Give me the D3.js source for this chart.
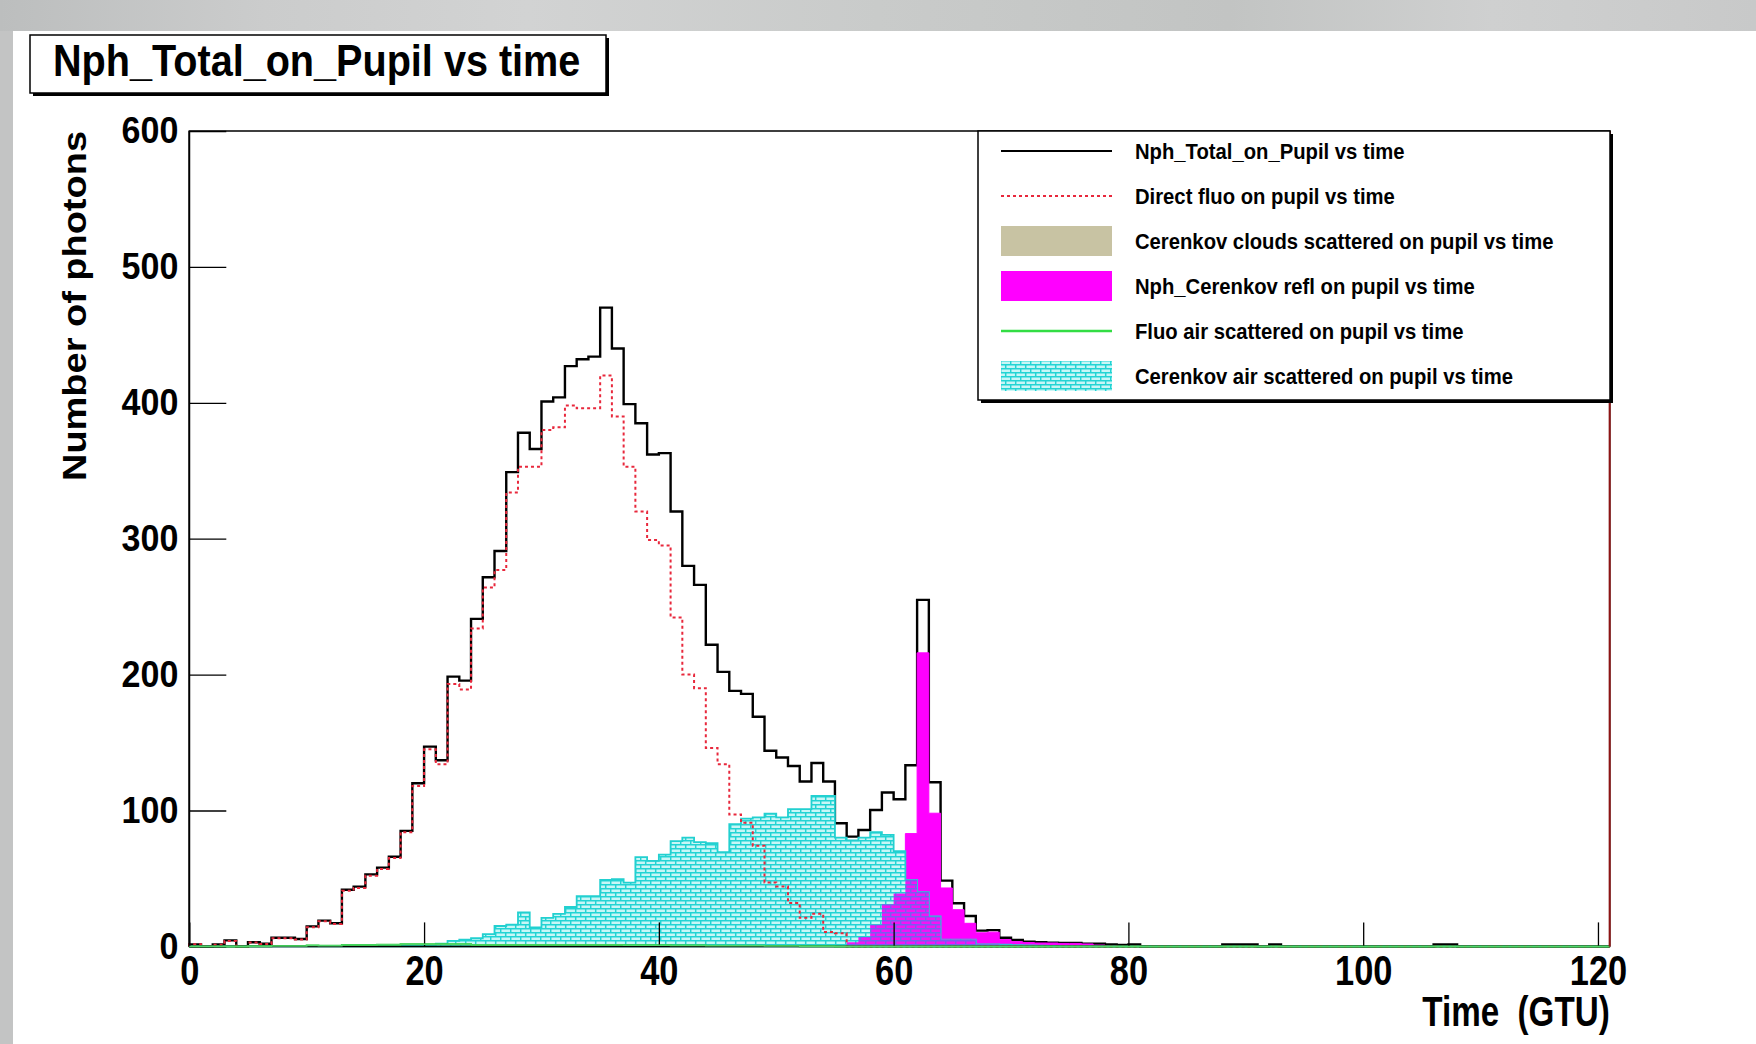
<!DOCTYPE html>
<html>
<head>
<meta charset="utf-8">
<script src="https://cdn.jsdelivr.net/npm/d3@7"></script>
<style>
body { margin: 0; background: #fff; }
svg text { font-family: "Liberation Sans", Arial, Helvetica, sans-serif; font-weight: bold; fill: #000; }
</style>
</head>
<body>
<div id="chart"></div>
<script>
// Histogram contents, one value per 1 GTU bin (bin i covers [i, i+1))
var nphTotal = [
  1.5, 0, 1.5, 4.4, 0, 3, 2, 6.4, 6.4, 5.4,
  14.7, 19, 17, 41.7, 44, 53, 58, 66, 85, 120,
  147, 137, 198.5, 195.6, 241, 271.6, 291, 349, 378, 366,
  401, 404, 427, 432, 434, 470, 440, 399, 385, 362,
  363, 320, 280, 266, 222, 202, 188, 185.8, 169, 144,
  139, 132.8, 121.3, 135, 121.3, 90.6, 80.8, 85.7, 100.4, 113.2,
  108.3, 133.3, 255, 120.8, 48.4, 31.7, 22.4, 11.6, 12, 6.4,
  4.7, 3.5, 3, 2.8, 2.5, 2.5, 2, 2, 1.5, 1,
  1.5, 0, 0, 0, 0, 0, 0, 0, 1.5, 1.5,
  1.5, 0, 1.5, 0, 0, 0, 0, 0, 0, 0,
  0, 0, 0, 0, 0, 0, 1.5, 1.5, 0, 0,
  0, 0, 0, 0, 0, 0, 0, 0, 0, 0, 0
];
var directFluo = [
  1.5, 0, 1.2, 4, 0, 2.8, 1.8, 6, 6, 5,
  14, 18.5, 16.5, 41, 43, 52, 57, 65, 84, 118,
  145, 134, 193, 189, 234, 264, 277, 334, 353, 353,
  380, 382, 398, 396, 396, 420, 390, 353, 320, 299,
  295, 242, 200, 190, 146, 134, 97, 91, 74, 47,
  44, 32, 21, 24, 10.6, 9.6, 0, 0, 0, 0,
  0, 0, 0, 0, 0, 0, 0, 0, 0, 0,
  0, 0, 0, 0, 0, 0, 0, 0, 0, 0,
  0, 0, 0, 0, 0, 0, 0, 0, 0, 0,
  0, 0, 0, 0, 0, 0, 0, 0, 0, 0,
  0, 0, 0, 0, 0, 0, 0, 0, 0, 0,
  0, 0, 0, 0, 0, 0, 0, 0, 0, 0, 0
];
var cloudsScattered = [
  0, 0, 0, 0, 0, 0, 0, 0, 0, 0,
  0, 0, 0, 0, 0, 0, 0, 0, 0, 0,
  0, 0, 0, 0, 0, 0, 0, 0, 0, 0,
  0, 0, 0, 0, 0, 0, 0, 0, 0, 0,
  0, 0, 0, 0, 0, 0, 0, 0, 0, 0,
  0, 0, 0, 0, 0, 0, 0, 0, 0, 0,
  0, 0, 0, 0, 0, 0, 0, 0, 0, 0,
  0, 0, 0, 0, 0, 0, 0, 0, 0, 0,
  0, 0, 0, 0, 0, 0, 0, 0, 0, 0,
  0, 0, 0, 0, 0, 0, 0, 0, 0, 0,
  0, 0, 0, 0, 0, 0, 0, 0, 0, 0,
  0, 0, 0, 0, 0, 0, 0, 0, 0, 0, 0
];
var cerenkovRefl = [
  0, 0, 0, 0, 0, 0, 0, 0, 0, 0,
  0, 0, 0, 0, 0, 0, 0, 0, 0, 0,
  0, 0, 0, 0, 0, 0, 0, 0, 0, 0,
  0, 0, 0, 0, 0, 0, 0, 0, 0, 0,
  0, 0, 0, 0, 0, 0, 0, 0, 0, 0,
  0, 0, 0, 0, 0, 0.5, 3, 7, 16, 31,
  39, 83, 216, 98, 43, 27, 17, 10, 10.5, 5,
  3.5, 2.8, 2.5, 2.5, 2.2, 2.2, 1.8, 1, 0.5, 0,
  0, 0, 0, 0, 0, 0, 0, 0, 0, 0,
  0, 0, 0, 0, 0, 0, 0, 0, 0, 0,
  0, 0, 0, 0, 0, 0, 0, 0, 0, 0,
  0, 0, 0, 0, 0, 0, 0, 0, 0, 0, 0
];
var fluoAirScattered = [
  0, 0, 0, 0, 0, 0.2, 0.2, 0.3, 0.3, 0.3,
  0.6, 0.5, 0.5, 1, 1, 1, 1.2, 1.2, 1.5, 1.5,
  1.5, 1.5, 1.5, 1.5, 1, 1, 1, 1, 1, 1,
  1, 1, 1, 1, 1, 1, 1, 0.8, 0.8, 0.8,
  0.8, 0.6, 0.6, 0.6, 0.5, 0.5, 0.5, 0.4, 0.4, 0.3,
  0.3, 0.3, 0.2, 0.2, 0.2, 0, 0, 0, 0, 0,
  0, 0, 0, 0, 0, 0, 0, 0, 0, 0,
  0, 0, 0, 0, 0, 0, 0, 0, 0, 0,
  0, 0, 0, 0, 0, 0, 0, 0, 0, 0,
  0, 0, 0, 0, 0, 0, 0, 0, 0, 0,
  0, 0, 0, 0, 0, 0, 0, 0, 0, 0,
  0, 0, 0, 0, 0, 0, 0, 0, 0, 0, 0
];
var cerenkovAir = [
  0, 0, 0, 0, 0, 0, 0, 0, 0, 0,
  0, 0, 0, 0, 0, 0.3, 0.3, 0.5, 0.5, 0.8,
  1, 2, 4, 5, 6, 9, 15, 16, 25, 14,
  21, 24, 29, 37, 37, 49, 49.5, 47, 65.7, 63,
  67.6, 77.5, 80, 76.7, 76, 69.4, 90, 94, 95, 97.6,
  95, 101, 101, 110.7, 110.7, 80, 78, 80, 84, 82,
  70, 49, 40, 22, 5, 5, 5, 1.5, 1.5, 1.2,
  1, 0.8, 0.5, 0.3, 0, 0, 0, 0, 0, 0,
  0, 0, 0, 0, 0, 0, 0, 0, 0, 0,
  0, 0, 0, 0, 0, 0, 0, 0, 0, 0,
  0, 0, 0, 0, 0, 0, 0, 0, 0, 0,
  0, 0, 0, 0, 0, 0, 0, 0, 0, 0, 0
];

var xTicks = [0, 20, 40, 60, 80, 100, 120];
var yTicks = [0, 100, 200, 300, 400, 500, 600];
var titleText = "Nph_Total_on_Pupil vs time";
var xTitle = "Time  (GTU)";
var yTitle = "Number of photons";
var legendLabels = [
  "Nph_Total_on_Pupil vs time",
  "Direct fluo on pupil vs time",
  "Cerenkov clouds scattered on pupil vs time",
  "Nph_Cerenkov refl on pupil vs time",
  "Fluo air scattered on pupil vs time",
  "Cerenkov air scattered on pupil vs time"
];

var W = 1756, H = 1044;
var frame = {left: 189.3, right: 1609.7, top: 131, bottom: 946.4};

function init() {
    drawChart("#chart");
}

function squeeze(sel, k) {
    sel.each(function () {
        var w = this.getComputedTextLength();
        d3.select(this).attr("textLength", w * k).attr("lengthAdjust", "spacingAndGlyphs");
    });
}

function stepPoints(vals) {
    var pts = [[0, 0]];
    vals.forEach(function (v, i) {
        pts.push([i, v]);
        pts.push([i + 1, v]);
    });
    pts.push([vals.length, 0]);
    return pts;
}

function drawChart(id) {
    var svg = d3.select(id)
        .append("svg")
        .attr("width", W)
        .attr("height", H);

    var defs = svg.append("defs");

    // gray band on top of the canvas
    var grad = defs.append("linearGradient").attr("id", "band");
    [["0", "#bcbebe"], ["0.15", "#cbcccc"], ["0.3", "#d2d3d3"], ["0.5", "#c9cbca"],
     ["0.7", "#c2c4c3"], ["0.85", "#cfd0d0"], ["1", "#c8c9c9"]].forEach(function (s) {
        grad.append("stop").attr("offset", s[0]).attr("stop-color", s[1]);
    });

    // brick hatch (ROOT fill style 3010 look)
    function brick(pid, bg, stroke) {
        var p = defs.append("pattern").attr("id", pid)
            .attr("patternUnits", "userSpaceOnUse")
            .attr("width", 10).attr("height", 8);
        p.append("rect").attr("width", 10).attr("height", 8).attr("fill", bg);
        p.append("path")
            .attr("d", "M0,0.7H10M0,4.7H10M0.7,0.7V4.7M5.7,4.7V8")
            .attr("stroke", stroke).attr("stroke-width", 1.5).attr("fill", "none");
    }
    brick("hatchCyan", "#c8f6f6", "#22d4d4");
    brick("hatchMix", "#f414f4", "#7a5cf0");

    svg.append("rect").attr("width", W).attr("height", H).attr("fill", "#fff");
    svg.append("rect").attr("width", W).attr("height", 31).attr("fill", "url(#band)");
    svg.append("rect").attr("x", 0).attr("y", 31).attr("width", 13).attr("height", H - 31).attr("fill", "#c3c4c4");

    var x = d3.scaleLinear().domain([0, 121]).range([frame.left, frame.right]);
    var y = d3.scaleLinear().domain([0, 600]).range([frame.bottom, frame.top]);

    var line = d3.line()
        .x(function (d) { return x(d[0]); })
        .y(function (d) { return y(d[1]); });

    // frame
    svg.append("rect")
        .attr("x", frame.left).attr("y", frame.top)
        .attr("width", frame.right - frame.left).attr("height", frame.bottom - frame.top)
        .attr("fill", "#fff").attr("stroke", "#000").attr("stroke-width", 1.5);

    var plot = svg.append("g");

    // total
    plot.append("path")
        .attr("d", line(stepPoints(nphTotal)))
        .attr("fill", "none").attr("stroke", "#000").attr("stroke-width", 2.4);

    // clouds scattered
    plot.append("path")
        .attr("d", line(stepPoints(cloudsScattered)) + "Z")
        .attr("fill", "#c8c3a3").attr("stroke", "none");

    // cerenkov reflected
    plot.append("path")
        .attr("d", line(stepPoints(cerenkovRefl)) + "Z")
        .attr("fill", "#ff00ff").attr("stroke", "#ff00ff").attr("stroke-width", 1);

    // cerenkov air scattered
    plot.append("path")
        .attr("d", line(stepPoints(cerenkovAir)) + "Z")
        .attr("fill", "url(#hatchCyan)").attr("stroke", "#22d0d0").attr("stroke-width", 1.8);

    // overlap of both cerenkov components
    var overlap = cerenkovAir.map(function (v, i) { return Math.min(v, cerenkovRefl[i]); });
    plot.append("path")
        .attr("d", line(stepPoints(overlap)) + "Z")
        .attr("fill", "url(#hatchMix)").attr("stroke", "none");

    // direct fluo
    plot.append("path")
        .attr("d", line(stepPoints(directFluo)))
        .attr("fill", "none").attr("stroke", "#e8283c").attr("stroke-width", 2)
        .attr("stroke-dasharray", "3,3");

    // fluo air scattered
    plot.append("path")
        .attr("d", line(stepPoints(fluoAirScattered)))
        .attr("fill", "none").attr("stroke", "#22cc33").attr("stroke-width", 2);

    // axes
    var gx = svg.append("g").attr("transform", "translate(0," + frame.bottom + ")");
    gx.call(d3.axisBottom(x).tickValues(d3.range(0, 121, 5)).tickSize(-12).tickSizeOuter(0).tickFormat(""));
    gx.call(d3.axisBottom(x).tickValues(xTicks).tickSize(-24).tickSizeOuter(0).tickPadding(8));
    gx.selectAll(".domain").remove();
    gx.selectAll("line").attr("stroke", "#000").attr("stroke-width", 1.3);
    gx.selectAll("text")
        .style("font-size", "43px").attr("fill", "#000")
        .call(squeeze, 0.8);

    var gy = svg.append("g").attr("transform", "translate(" + frame.left + ",0)");
    gy.call(d3.axisLeft(y).tickValues(d3.range(0, 601, 20)).tickSize(-20).tickSizeOuter(0).tickFormat(""));
    gy.call(d3.axisLeft(y).tickValues(yTicks).tickSize(-37).tickSizeOuter(0).tickPadding(11));
    gy.selectAll(".domain").remove();
    gy.selectAll("line").attr("stroke", "#000").attr("stroke-width", 1.3);
    gy.selectAll("text")
        .style("font-size", "37px").attr("fill", "#000")
        .call(squeeze, 0.92);

    // frame edges over the ticks
    svg.append("line")
        .attr("x1", frame.left).attr("x2", frame.left).attr("y1", frame.top).attr("y2", frame.bottom)
        .attr("stroke", "#000").attr("stroke-width", 1.8);
    svg.append("line")
        .attr("x1", frame.left).attr("x2", frame.right).attr("y1", frame.bottom).attr("y2", frame.bottom)
        .attr("stroke", "#000").attr("stroke-width", 1.5);
    svg.append("path")
        .attr("d", line(stepPoints(fluoAirScattered)))
        .attr("fill", "none").attr("stroke", "#4fd86a").attr("stroke-width", 1.5);
    svg.append("line")
        .attr("x1", frame.right).attr("x2", frame.right).attr("y1", frame.top).attr("y2", frame.bottom)
        .attr("stroke", "#8e1414").attr("stroke-width", 2);

    // axis titles
    svg.append("text")
        .attr("x", frame.right).attr("y", 1026)
        .attr("text-anchor", "end")
        .style("font-size", "42px").style("white-space", "pre")
        .text(xTitle)
        .call(squeeze, 0.79);

    svg.append("text")
        .attr("transform", "translate(86," + frame.top + ") rotate(-90)")
        .attr("text-anchor", "end")
        .style("font-size", "33px")
        .text(yTitle)
        .attr("textLength", 350).attr("lengthAdjust", "spacingAndGlyphs");

    // legend
    var lg = {x: 978, y: 131, w: 632, h: 269};
    svg.append("rect").attr("x", lg.x + 3).attr("y", lg.y + 3).attr("width", lg.w).attr("height", lg.h).attr("fill", "#000");
    svg.append("rect").attr("x", lg.x).attr("y", lg.y).attr("width", lg.w).attr("height", lg.h)
        .attr("fill", "#fff").attr("stroke", "#000").attr("stroke-width", 1.5);

    var rows = svg.selectAll(".leg").data(legendLabels).enter().append("g")
        .attr("class", "leg")
        .attr("transform", function (d, i) { return "translate(0," + (lg.y + 20 + i * 45) + ")"; });

    rows.append("text")
        .attr("x", 1135).attr("y", 8)
        .style("font-size", "22px")
        .text(function (d) { return d; })
        .call(squeeze, 0.92);

    var sx0 = 1001, sx1 = 1112;
    var r0 = d3.select(rows.nodes()[0]), r1 = d3.select(rows.nodes()[1]), r2 = d3.select(rows.nodes()[2]),
        r3 = d3.select(rows.nodes()[3]), r4 = d3.select(rows.nodes()[4]), r5 = d3.select(rows.nodes()[5]);
    r0.append("line").attr("x1", sx0).attr("x2", sx1).attr("stroke", "#000").attr("stroke-width", 2.2);
    r1.append("line").attr("x1", sx0).attr("x2", sx1).attr("stroke", "#e8283c").attr("stroke-width", 2)
        .attr("stroke-dasharray", "3,3");
    r2.append("rect").attr("x", sx0).attr("y", -15).attr("width", sx1 - sx0).attr("height", 30).attr("fill", "#c8c3a3");
    r3.append("rect").attr("x", sx0).attr("y", -15).attr("width", sx1 - sx0).attr("height", 30).attr("fill", "#ff00ff");
    r4.append("line").attr("x1", sx0).attr("x2", sx1).attr("stroke", "#33dd44").attr("stroke-width", 2.5);
    r5.append("rect").attr("x", sx0).attr("y", -15).attr("width", sx1 - sx0).attr("height", 30)
        .attr("fill", "url(#hatchCyan)");

    // title box
    var tb = {x: 30, y: 35, w: 576, h: 58};
    svg.append("rect").attr("x", tb.x + 3).attr("y", tb.y + 3).attr("width", tb.w).attr("height", tb.h).attr("fill", "#000");
    svg.append("rect").attr("x", tb.x).attr("y", tb.y).attr("width", tb.w).attr("height", tb.h)
        .attr("fill", "#fff").attr("stroke", "#000").attr("stroke-width", 1.5);
    svg.append("text")
        .attr("x", 53).attr("y", 76)
        .style("font-size", "44px")
        .text(titleText)
        .call(squeeze, 0.9);
}

init();
</script>
</body>
</html>
